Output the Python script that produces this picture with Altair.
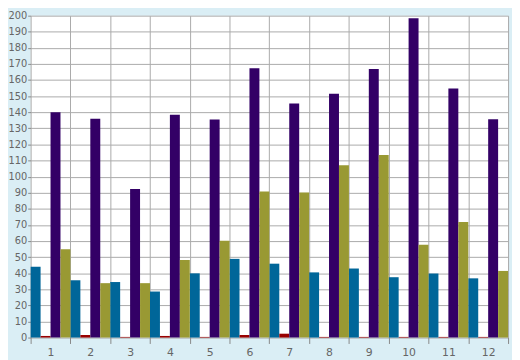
import altair as alt
import pandas as pd

groups = ["1", "2", "3", "4", "5", "6", "7", "8", "9", "10", "11", "12"]
series = ["A", "B", "C", "D"]
colors = ["#006699", "#990000", "#330066", "#999933"]

blue = [44.0, 35.6, 34.5, 28.6, 39.9, 48.9, 45.9, 40.5, 42.9, 37.5, 39.8, 36.8]
red = [1.0, 1.6, 0.4, 1.0, 0.4, 1.6, 2.4, 0.4, 0.4, 0.4, 0.4, 0.4]
purple = [140.0, 136.0, 92.3, 138.5, 135.5, 167.3, 145.5, 151.5, 166.8, 198.4, 154.8, 135.7]
olive = [54.8, 33.8, 33.8, 48.2, 60.2, 90.8, 90.2, 107.0, 113.5, 57.6, 71.8, 41.4]

rows = []
for name, vals in zip(series, [blue, red, purple, olive]):
    for g, v in zip(groups, vals):
        rows.append({"group": g, "series": name, "value": v})
df = pd.DataFrame(rows)

label_font = "DejaVu Sans"

chart = alt.Chart(df).mark_bar().encode(
    x=alt.X("group:O", sort=groups, title=None,
            scale=alt.Scale(paddingInner=0, paddingOuter=0),
            axis=alt.Axis(tickBand="extent", grid=True, gridColor="#aaaaaa",
                          labelAngle=0, domain=False, tickColor="#888888",
                          tickSize=6, labelPadding=3, labelColor="#666666",
                          labelFont=label_font, labelFontSize=11)),
    xOffset=alt.XOffset("series:N", sort=series,
                        scale=alt.Scale(paddingInner=0, paddingOuter=0)),
    y=alt.Y("value:Q", title=None,
            scale=alt.Scale(domain=[0, 200], nice=False),
            axis=alt.Axis(values=list(range(0, 201, 10)), grid=True,
                          gridColor="#aaaaaa", domain=False, tickColor="#888888",
                          tickSize=3, labelPadding=1, labelColor="#666666",
                          labelFont=label_font, labelFontSize=10)),
    color=alt.Color("series:N", sort=series,
                    scale=alt.Scale(domain=series, range=colors), legend=None),
).properties(
    width=485, height=327,
    autosize=alt.AutoSizeParams(type="none"),
    padding={"left": 23, "top": 5, "right": 4, "bottom": 20},
    background="#daeef5",
).configure_view(fill="white", stroke=None)

chart.save("out.html", embed_options={"renderer": "svg", "actions": False})
